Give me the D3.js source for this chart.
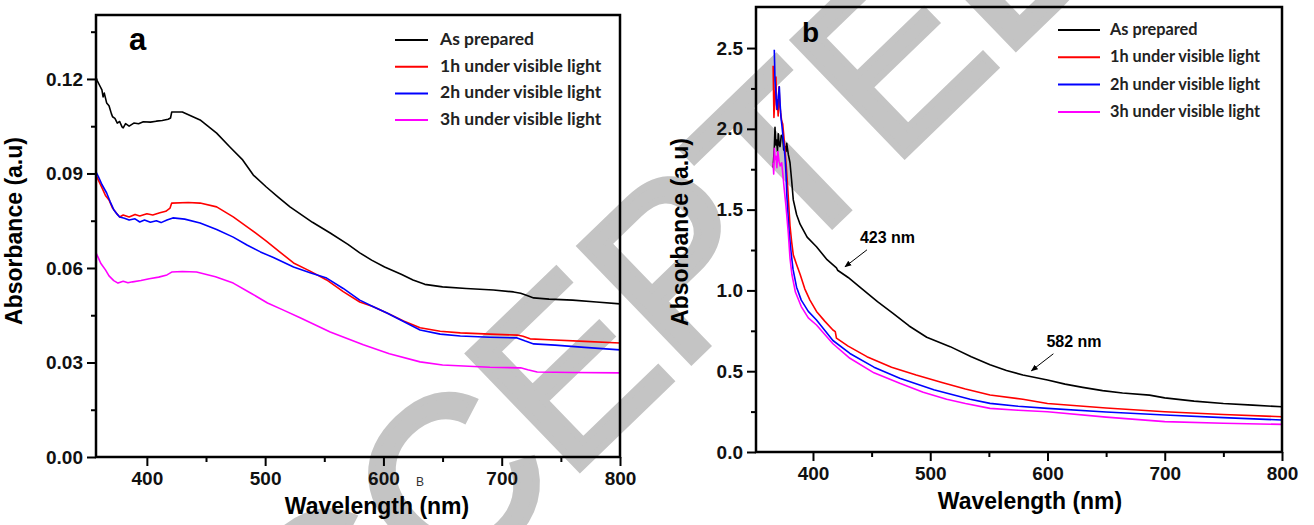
<!DOCTYPE html>
<html>
<head>
<meta charset="utf-8">
<script src="https://cdn.jsdelivr.net/npm/d3@7"></script>
<style>
  body { margin: 0; background: #fff; }
  svg { display: block; }
</style>
</head>
<body>
<div id="chart"></div>
<script>
// series labels + colours (same for both panels)
const seriesNames = ["As prepared", "1h under visible light", "2h under visible light", "3h under visible light"]
const seriesColors = ["#000000", "#ff0000", "#0000ff", "#ff00ff"]

// panel a: [wavelength (nm), absorbance]
const aAsPrepared = [[357,0.1205],[358,0.1195],[360,0.118],[362,0.1165],[363,0.1143],[364,0.1155],[366,0.1124],[368,0.1115],[370,0.109],[371,0.108],[373,0.1075],[375,0.106],[377,0.1065],[379,0.1048],[380,0.1045],[382,0.1058],[385,0.105],[389,0.106],[393,0.1058],[397,0.1064],[403,0.1063],[408,0.1066],[413,0.1068],[418,0.1072],[420,0.1076],[421,0.1095],[430,0.1095],[445,0.107],[459,0.1028],[470,0.0985],[481,0.0943],[490,0.0895],[501,0.0857],[511,0.0825],[521,0.0794],[540,0.0745],[555,0.0711],[570,0.0675],[580,0.0648],[590,0.0625],[601,0.0603],[615,0.058],[625,0.0562],[635,0.0548],[650,0.054],[670,0.0535],[693,0.053],[710,0.0524],[716,0.052],[722,0.0512],[727,0.0505],[740,0.0501],[760,0.0498],[780,0.0492],[800,0.0486]]
const aOneHour = [[357,0.0895],[359,0.0879],[362,0.0855],[365,0.083],[368,0.0816],[371,0.079],[374,0.0775],[377,0.0762],[380,0.0768],[385,0.0762],[390,0.077],[394,0.0765],[400,0.0772],[405,0.0768],[411,0.0775],[416,0.078],[419.6,0.079],[421,0.0806],[435,0.0808],[445,0.0806],[459,0.0794],[473,0.0762],[488,0.0722],[501,0.0685],[512,0.0652],[524,0.0616],[538,0.059],[552,0.0562],[566,0.0525],[580,0.0492],[591,0.0478],[603,0.0457],[617,0.0432],[631,0.041],[648,0.0399],[665,0.0394],[690,0.039],[713,0.0387],[718,0.0383],[724,0.0375],[740,0.0372],[770,0.0367],[800,0.0362]]
const aTwoHour = [[357,0.0905],[359,0.089],[362,0.0865],[366,0.0838],[369,0.081],[372,0.0785],[375,0.077],[377,0.0762],[381,0.0758],[385,0.0752],[390,0.0756],[394,0.0746],[398,0.0752],[403,0.0745],[408,0.075],[412,0.0744],[417,0.0752],[422,0.0759],[432,0.0755],[445,0.0743],[459,0.0722],[473,0.0698],[485,0.0672],[496,0.0651],[507,0.0633],[524,0.0603],[538,0.0585],[552,0.0568],[566,0.0535],[580,0.0498],[591,0.0478],[603,0.0457],[617,0.043],[631,0.0403],[648,0.039],[665,0.0384],[690,0.038],[713,0.0378],[720,0.0368],[727,0.0359],[745,0.0355],[770,0.0348],[800,0.034]]
const aThreeHour = [[357,0.0648],[359,0.0632],[361,0.0615],[365,0.0594],[368,0.0575],[372,0.056],[375.6,0.0552],[380,0.0558],[384,0.0553],[388,0.0556],[395,0.056],[402,0.0566],[410,0.0571],[417,0.0578],[421,0.0587],[430,0.0589],[442,0.0587],[458,0.0572],[473,0.0552],[488,0.052],[502,0.0489],[515,0.0467],[530,0.0441],[555,0.0397],[583,0.0356],[605,0.0328],[631,0.0302],[650,0.0292],[690,0.0285],[716,0.0283],[722,0.0277],[730,0.027],[760,0.0268],[800,0.0267]]

// panel b
const bAsPrepared = [[366,1.76],[367,1.88],[367.6,2.01],[368.3,1.9],[369,1.93],[369.7,1.86],[370.4,1.97],[371.2,1.9],[371.9,1.89],[373,1.96],[374.2,1.95],[375,1.87],[376.1,1.89],[377,1.86],[377.6,1.91],[379,1.84],[380.4,1.79],[381.8,1.68],[383.2,1.56],[386,1.47],[389,1.41],[395,1.33],[403,1.27],[412,1.19],[420,1.14],[421,1.125],[430,1.08],[440,1.02],[455,0.93],[468,0.86],[482,0.78],[497,0.71],[517,0.652],[535,0.59],[551,0.54],[565,0.505],[579,0.476],[600,0.446],[615,0.42],[630,0.40],[647,0.38],[664,0.365],[687,0.352],[700,0.335],[725,0.315],[750,0.30],[775,0.29],[800,0.28]]
const bOneHour = [[366,2.39],[366.7,2.07],[367.5,2.2],[368.4,2.32],[369,2.12],[369.6,2.18],[370.3,2.08],[371,2.26],[371.7,2.15],[372.4,2.10],[373.3,2.05],[374.2,2.03],[375.2,1.95],[376.1,1.87],[377.3,1.76],[378.4,1.64],[379.4,1.52],[380.4,1.40],[381.8,1.30],[383.2,1.22],[386,1.16],[389,1.10],[393,1.01],[397.4,0.94],[403,0.87],[410,0.81],[417,0.755],[419,0.745],[420,0.705],[430,0.655],[446,0.59],[467,0.525],[488,0.476],[510,0.43],[530,0.39],[551,0.353],[579,0.326],[600,0.30],[650,0.272],[700,0.249],[750,0.232],[800,0.218]]
const bTwoHour = [[367,2.49],[367.6,2.3],[368.2,2.24],[368.9,2.15],[369.6,2.12],[370.4,2.2],[371.3,2.26],[372,2.15],[372.7,2.07],[373.5,2.02],[374.2,1.97],[375.2,1.9],[376.1,1.83],[377,1.72],[377.6,1.60],[378.7,1.47],[379.8,1.35],[381.4,1.23],[383,1.13],[386,1.02],[390,0.94],[396,0.87],[403,0.817],[417,0.69],[431.5,0.61],[452,0.525],[474,0.456],[503,0.385],[534,0.326],[551,0.301],[575,0.283],[600,0.27],[650,0.248],[700,0.229],[750,0.213],[800,0.198]]
const bThreeHour = [[366,1.79],[366.5,1.72],[367,1.88],[367.7,1.81],[368.5,1.83],[369.2,1.76],[370,1.86],[371,1.8],[372,1.77],[373.3,1.79],[374.3,1.72],[375.3,1.64],[377,1.52],[379,1.35],[380.4,1.2],[382,1.1],[385,0.99],[390,0.9],[396,0.83],[403,0.786],[417,0.67],[431.5,0.58],[452,0.49],[474,0.425],[494,0.37],[514,0.326],[530,0.3],[551,0.27],[575,0.258],[600,0.249],[650,0.216],[700,0.188],[750,0.178],[800,0.171]]

// ticks
const xMajor = [400, 500, 600, 700, 800]
const xMinor = [450, 550, 650, 750]
const aYMajor = [0, 0.03, 0.06, 0.09, 0.12]
const aYMinor = [0.015, 0.045, 0.075, 0.105, 0.135]
const bYMajor = [0, 0.5, 1.0, 1.5, 2.0, 2.5]
const bYMinor = [0.25, 0.75, 1.25, 1.75, 2.25]

// peak labels in panel b (on the as-prepared curve)
const bPeaks = [{label: "423 nm", wl: 423}, {label: "582 nm", wl: 582}]

const W = 1314, H = 525
const svg = d3.select("#chart").append("svg").attr("width", W).attr("height", H)

svg.append("defs").append("marker")
    .attr("id", "arrow").attr("viewBox", "0 0 10 10")
    .attr("refX", 9).attr("refY", 5)
    .attr("markerWidth", 7).attr("markerHeight", 7)
    .attr("orient", "auto")
    .append("path").attr("d", "M0,1 L10,5 L0,9 z").attr("fill", "#000")

// grey "ACCEPTED" stamp behind everything
svg.append("text")
    .attr("transform", "translate(214,822) rotate(-44)")
    .attr("font-family", "Liberation Sans, Arial, sans-serif")
    .attr("font-size", 232)
    .attr("fill", "#c4c4c4")
    .attr("stroke", "#c4c4c4").attr("stroke-width", 7).attr("stroke-linejoin", "miter")
    .text("ACCEPTED")

const font = "Liberation Sans, Arial, sans-serif"

function drawPanel(p) {
    const x = d3.scaleLinear().domain(p.xDomain).range([p.left, p.right])
    const y = d3.scaleLinear().domain(p.yDomain).range([p.bottom, p.top])
    const g = svg.append("g")

    // minor ticks
    g.append("g").attr("transform", `translate(0,${p.bottom})`)
        .call(d3.axisBottom(x).tickValues(xMinor).tickSize(5).tickFormat(""))
    g.append("g").attr("transform", `translate(${p.left},0)`)
        .call(d3.axisLeft(y).tickValues(p.yMinor).tickSize(5).tickFormat(""))

    g.append("g").attr("transform", `translate(0,${p.bottom})`)
        .call(d3.axisBottom(x).tickValues(xMajor).tickSize(9).tickPadding(6).tickFormat(d3.format("d")))
    g.append("g").attr("transform", `translate(${p.left},0)`)
        .call(d3.axisLeft(y).tickValues(p.yMajor).tickSize(9).tickPadding(4).tickFormat(d3.format(p.yFmt)))

    g.selectAll(".domain").remove()
    g.selectAll(".tick line").attr("stroke", "#000").attr("stroke-width", 2)
    g.selectAll(".tick text").attr("font-family", font).attr("font-weight", "bold")
        .attr("font-size", 19).attr("fill", "#111")

    // curves
    const line = d3.line().x(d => x(d[0])).y(d => y(d[1]))
    p.series.forEach((s, i) => {
        g.append("path").datum(s)
            .attr("d", line)
            .attr("fill", "none")
            .attr("stroke", seriesColors[i])
            .attr("stroke-width", 1.6)
            .attr("stroke-linejoin", "round")
    })

    // frame
    g.append("rect")
        .attr("x", p.left).attr("y", p.top)
        .attr("width", p.right - p.left).attr("height", p.bottom - p.top)
        .attr("fill", "none").attr("stroke", "#000").attr("stroke-width", 2.5)

    // axis titles
    g.append("text")
        .attr("x", (p.left + p.right) / 2 + p.xTitleShift).attr("y", p.bottom + 57)
        .attr("text-anchor", "middle")
        .attr("font-family", font).attr("font-weight", "bold").attr("font-size", 23)
        .text("Wavelength (nm)")
    g.append("text")
        .attr("transform", `translate(${p.left - p.yTitleGap},${p.yTitleMid}) rotate(-90)`)
        .attr("text-anchor", "middle")
        .attr("font-family", font).attr("font-weight", "bold").attr("font-size", 23)
        .text("Absorbance (a.u)")

    // panel letter
    g.append("text")
        .attr("x", p.letterPos[0]).attr("y", p.letterPos[1])
        .attr("font-family", font).attr("font-weight", "bold").attr("font-size", p.letterSize)
        .text(p.letter)

    // legend
    const lg = g.append("g")
    seriesNames.forEach((name, i) => {
        const ly = p.legend.y0 + i * p.legend.dy
        lg.append("line")
            .attr("x1", p.legend.x).attr("x2", p.legend.x + p.legend.len)
            .attr("y1", ly).attr("y2", ly)
            .attr("stroke", seriesColors[i]).attr("stroke-width", 2)
        lg.append("text")
            .attr("x", p.legend.x + p.legend.len + p.legend.gap).attr("y", ly + 5)
            .attr("font-family", "Lato, 'Open Sans', sans-serif").attr("font-weight", "bold")
            .attr("font-size", p.legend.size).attr("fill", "#222")
            .text(name)
    })

    return {x, y, g}
}

const pa = drawPanel({
    left: 96, right: 620, top: 15, bottom: 457,
    xDomain: [357, 800], yDomain: [0, 0.1403],
    yMajor: aYMajor, yMinor: aYMinor, yFmt: ".2f",
    series: [aAsPrepared, aOneHour, aTwoHour, aThreeHour],
    xTitleShift: 19, yTitleGap: 74, yTitleMid: 231,
    letter: "a", letterPos: [129, 50], letterSize: 31,
    legend: {x: 395, len: 33, gap: 12, y0: 40, dy: 26.7, size: 17.5}
})

const pb = drawPanel({
    left: 756, right: 1282, top: 7, bottom: 452,
    xDomain: [351.4, 800], yDomain: [0, 2.754],
    yMajor: bYMajor, yMinor: bYMinor, yFmt: ".1f",
    series: [bAsPrepared, bOneHour, bTwoHour, bThreeHour],
    xTitleShift: 11, yTitleGap: 68, yTitleMid: 232,
    letter: "b", letterPos: [802, 42], letterSize: 28,
    legend: {x: 1058, len: 42, gap: 10, y0: 30, dy: 27.3, size: 16.3}
})

// stray "B" under panel a axis
svg.append("text").attr("x", 416).attr("y", 486)
    .attr("font-family", font).attr("font-size", 12).attr("fill", "#333").text("B")

// peak annotations on panel b
const bisect = d3.bisector(d => d[0]).left
function blackAt(wl) {
    const i = bisect(bAsPrepared, wl)
    const a = bAsPrepared[i - 1], b = bAsPrepared[i]
    return a[1] + (b[1] - a[1]) * (wl - a[0]) / (b[0] - a[0])
}
bPeaks.forEach(pk => {
    const cx = pb.x(pk.wl), cy = pb.y(blackAt(pk.wl))
    const tip = [cx + 5, cy - 5]
    pb.g.append("line")
        .attr("x1", tip[0] + 22).attr("y1", tip[1] - 17)
        .attr("x2", tip[0]).attr("y2", tip[1])
        .attr("stroke", "#000").attr("stroke-width", 1)
        .attr("marker-end", "url(#arrow)")
    pb.g.append("text")
        .attr("x", tip[0] + 15).attr("y", tip[1] - 24)
        .attr("font-family", font).attr("font-weight", "bold").attr("font-size", 16)
        .text(pk.label)
})
</script>
</body>
</html>
